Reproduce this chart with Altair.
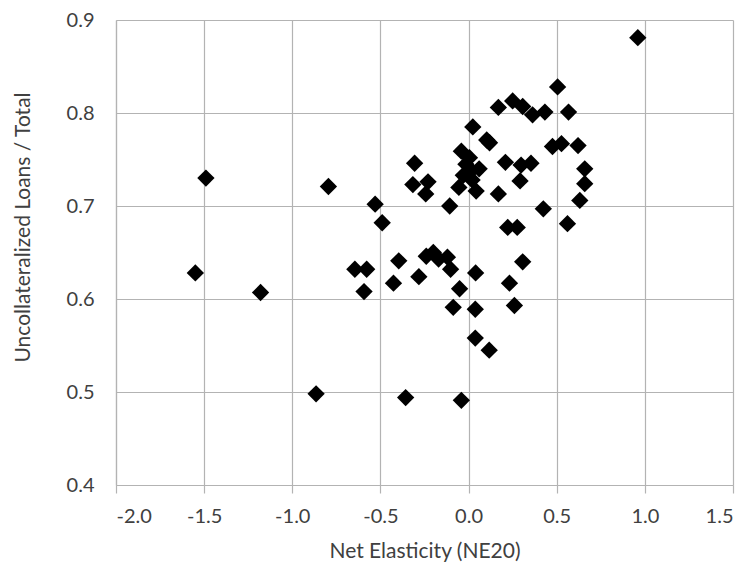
import altair as alt
import pandas as pd

net_elasticity = [
    -1.55, -1.49, -1.18, -0.865, -0.795, -0.53, -0.49, -0.645, -0.578, -0.593,
    -0.396, -0.426, -0.357, -0.306, -0.316, -0.282, -0.230, -0.243, -0.24, -0.20,
    -0.17, -0.12, -0.102, -0.051, -0.087, -0.041, 0.040, 0.038, 0.038, 0.117,
    0.232, 0.307, 0.260, 0.222, 0.276, 0.561, 0.424, 0.631, 0.659, 0.659,
    0.169, 0.292, 0.209, 0.298, 0.354, -0.107, -0.055, 0.043, -0.041, 0.024,
    0.103, 0.119, 0.169, 0.250, 0.307, 0.363, 0.433, 0.567, 0.505, 0.960,
    0.476, 0.527, 0.621, -0.015, 0.015, 0.060, -0.030, 0.005, 0.020,
]
uncollateralized_share = [
    0.628, 0.730, 0.607, 0.498, 0.721, 0.702, 0.682, 0.632, 0.632, 0.608,
    0.641, 0.617, 0.494, 0.746, 0.723, 0.624, 0.726, 0.713, 0.646, 0.650,
    0.643, 0.645, 0.632, 0.611, 0.591, 0.491, 0.628, 0.589, 0.558, 0.545,
    0.617, 0.640, 0.593, 0.677, 0.677, 0.681, 0.697, 0.706, 0.724, 0.740,
    0.713, 0.727, 0.747, 0.744, 0.746, 0.700, 0.720, 0.716, 0.759, 0.785,
    0.771, 0.768, 0.806, 0.813, 0.807, 0.798, 0.801, 0.801, 0.828, 0.881,
    0.764, 0.767, 0.765, 0.745, 0.738, 0.740, 0.733, 0.752, 0.728,
]
x_ticks = [-2.0, -1.5, -1.0, -0.5, 0.0, 0.5, 1.0, 1.5]
y_ticks = [0.4, 0.5, 0.6, 0.7, 0.8, 0.9]

df = pd.DataFrame({"ne": net_elasticity, "share": uncollateralized_share})

FONT = "Lato"
TXT = "#404040"
GRID = "#b3b3b3"

label_expr = "(datum.value < 0 ? '-' : '') + format(abs(datum.value), '.1f')"

chart = alt.Chart(df).mark_point(
    shape="diamond", filled=True, color="black", size=300, opacity=1
).encode(
    x=alt.X("ne:Q",
            scale=alt.Scale(domain=[-2.0, 1.5], nice=False, zero=False),
            axis=alt.Axis(values=x_ticks, labelExpr=label_expr,
                          title="Net Elasticity (NE20)",
                          grid=True, gridColor=GRID, gridWidth=1.2,
                          domainColor=GRID, domainWidth=1.2,
                          tickColor=GRID, tickSize=8, tickWidth=1.2,
                          labelPadding=13, labelFontSize=20, labelFont=FONT,
                          labelColor=TXT, titleFont=FONT, titleFontSize=21,
                          titleFontWeight="normal", titleColor=TXT,
                          titleBaseline="middle", titleY=66)),
    y=alt.Y("share:Q",
            scale=alt.Scale(domain=[0.4, 0.9], nice=False, zero=False),
            axis=alt.Axis(values=y_ticks, format=".1f",
                          title="Uncollateralized Loans / Total",
                          grid=True, gridColor=GRID, gridWidth=1.2,
                          domainColor=GRID, domainWidth=1.2,
                          ticks=False,
                          labelPadding=22, labelFontSize=20, labelFont=FONT,
                          labelColor=TXT, titleFont=FONT, titleFontSize=21,
                          titleFontWeight="normal", titleColor=TXT,
                          titleBaseline="middle", titleAlign="center",
                          titleAngle=270, titleX=-93, titleY=207)),
).properties(
    width=617, height=465,
    autosize=alt.AutoSizeParams(type="none"),
    padding={"left": 108, "top": 12, "right": 10, "bottom": 78},
).configure_view(stroke=None)

chart.save("out.html", embed_options={"renderer": "svg", "actions": False})
